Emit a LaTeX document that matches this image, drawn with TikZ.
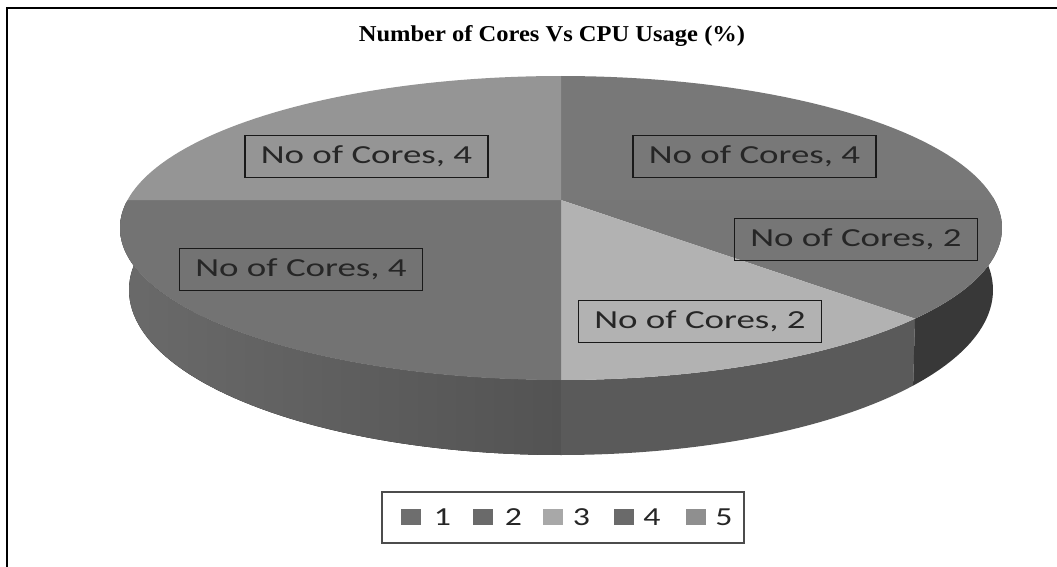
\documentclass[tikz,border=0pt]{standalone}
\usepackage{fontspec}
\usepackage{graphicx}
\newfontfamily\carlito{Carlito}
\newfontfamily\tnr{Liberation Serif}

% grey tones of the 3D pie
\definecolor{topA}{HTML}{787878}
\definecolor{topB}{HTML}{767676}
\definecolor{topC}{HTML}{B2B2B2}
\definecolor{topD}{HTML}{737373}
\definecolor{topE}{HTML}{959595}
\definecolor{sideB}{HTML}{383838}
\definecolor{sideC}{HTML}{5A5A5A}
\definecolor{sideDl}{HTML}{6A6A6A}
\definecolor{sideDr}{HTML}{535353}
% legend swatches
\definecolor{legA}{HTML}{6E6E6E}
\definecolor{legB}{HTML}{6A6A6A}
\definecolor{legC}{HTML}{A8A8A8}
\definecolor{legD}{HTML}{6A6A6A}
\definecolor{legE}{HTML}{8F8F8F}

\newcommand\wide[1]{\scalebox{1.42}[1]{#1}}

\begin{document}
\begin{tikzpicture}[x=1pt,y=-1pt,
  lblbox/.style={draw=black!90, line width=1.4pt, inner sep=0pt,
    minimum width=243pt, minimum height=42pt,
    font=\carlito\fontsize{26}{30}\selectfont, text=black!85},
  legsq/.style={fill=#1, inner sep=0pt, minimum width=20pt, minimum height=16pt},
  legtxt/.style={inner sep=0pt, font=\carlito\fontsize{26}{30}\selectfont, text=black!85},
  legframe/.style={draw=black!70, line width=2pt, inner sep=0pt,
    minimum width=362pt, minimum height=51pt},
  titletext/.style={font=\tnr\bfseries\fontsize{22.7}{26}\selectfont, inner sep=0pt, anchor=base}
]
\useasboundingbox (0,0) rectangle (1057,567);
\fill[white] (0,0) rectangle (1057,567);

% frame: top rule and left rule
\draw[line width=2.6pt, black] (1060,8) -- (7,8) -- (7,570);

% title
\node[titletext] (title) at (552,42) {\scalebox{1.08}[1]{Number of Cores Vs CPU Usage (\%)}};

\coordinate (ctr) at (561,200);

% side walls (front half of the cylinder)
\fill[left color=sideDl, right color=sideDr]
  plot[domain=90:190,samples=60] ({561+441*cos(\x)},{228+152*sin(\x)})
  -- plot[domain=190:90,samples=60] ({561+432*cos(\x)},{290+165*sin(\x)}) -- cycle;
\fill[sideC]
  plot[domain=36.6:90,samples=40] ({561+441*cos(\x)},{228+152*sin(\x)})
  -- plot[domain=90:35.4,samples=40] ({561+432*cos(\x)},{290+165*sin(\x)}) -- cycle;
\fill[sideB]
  plot[domain=-12:36.6,samples=40] ({561+441*cos(\x)},{228+152*sin(\x)})
  -- plot[domain=35.4:-12,samples=40] ({561+432*cos(\x)},{290+165*sin(\x)}) -- cycle;

% top faces of the five slices
\fill[topA] (ctr) -- plot[domain=-90:-10.6,samples=40] ({561+441*cos(\x)},{228+152*sin(\x)}) -- cycle;
\fill[topB] (ctr) -- plot[domain=-10.6:36.6,samples=40] ({561+441*cos(\x)},{228+152*sin(\x)}) -- cycle;
\fill[topC] (ctr) -- plot[domain=36.6:90,samples=40] ({561+441*cos(\x)},{228+152*sin(\x)}) -- cycle;
\fill[topD] (ctr) -- plot[domain=90:190.6,samples=60] ({561+441*cos(\x)},{228+152*sin(\x)}) -- cycle;
\fill[topE] (ctr) -- plot[domain=190.6:270,samples=50] ({561+441*cos(\x)},{228+152*sin(\x)}) -- cycle;

% data labels
\node[lblbox] (lab1) at (754.5,156.5) {\wide{No of Cores, 4}};
\node[lblbox] (lab2) at (856,239.5) {\wide{No of Cores, 2}};
\node[lblbox] (lab3) at (700,321.5) {\wide{No of Cores, 2}};
\node[lblbox] (lab4) at (301,269.5) {\wide{No of Cores, 4}};
\node[lblbox] (lab5) at (366.5,156.5) {\wide{No of Cores, 4}};

% legend
\node[legframe] (legend) at (563,517.5) {};
\node[legsq=legA] (sq1) at (411,517) {};
\node[legtxt] (k1) at (442.5,517) {\scalebox{1.3}[1]{1}};
\node[legsq=legB] (sq2) at (482.5,517) {};
\node[legtxt] (k2) at (513.5,517) {\scalebox{1.3}[1]{2}};
\node[legsq=legC] (sq3) at (553,517) {};
\node[legtxt] (k3) at (581.5,517) {\scalebox{1.3}[1]{3}};
\node[legsq=legD] (sq4) at (624,517) {};
\node[legtxt] (k4) at (652,517) {\scalebox{1.3}[1]{4}};
\node[legsq=legE] (sq5) at (696,517) {};
\node[legtxt] (k5) at (724,517) {\scalebox{1.3}[1]{5}};
\end{tikzpicture}
\end{document}
